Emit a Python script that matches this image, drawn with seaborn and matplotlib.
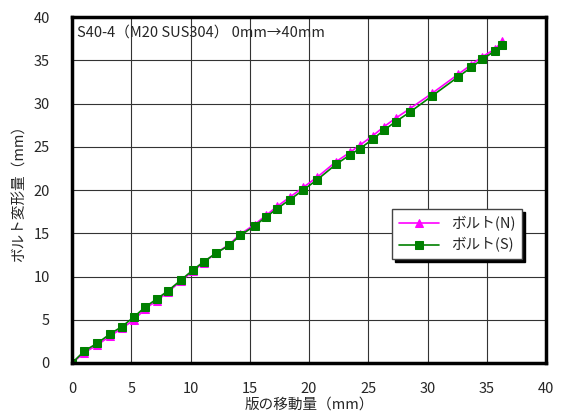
import numpy as np
import pandas as pd
import matplotlib
matplotlib.use('Agg')
import matplotlib.pyplot as plt
import seaborn as sns

sns.set_style("white")
plt.rcParams['font.family'] = ['Noto Sans CJK JP', 'DejaVu Sans']

MAGENTA = '#FF00FF'
GREEN = '#008000'

# plate displacement (mm)
plate_move = [0, 1.05, 2.15, 3.2, 4.2, 5.25, 6.2, 7.15, 8.1, 9.2, 10.2, 11.1,
              12.15, 13.25, 14.2, 15.4, 16.4, 17.3, 18.4, 19.5, 20.7, 22.3,
              23.5, 24.3, 25.4, 26.3, 27.3, 28.5, 30.4, 32.6, 33.7, 34.6,
              35.7, 36.3]
# bolt deformation (mm)
bolt_n = [0, 1.2, 2.1, 3.1, 4.0, 5.0, 6.3, 7.2, 8.2, 9.5, 10.6, 11.6,
          12.7, 13.7, 14.9, 16.0, 17.1, 18.1, 19.2, 20.3, 21.5, 23.3,
          24.4, 25.2, 26.3, 27.3, 28.3, 29.4, 31.2, 33.4, 34.5, 35.4,
          36.3, 37.2]
bolt_s = [0, 1.4, 2.3, 3.35, 4.2, 5.35, 6.5, 7.4, 8.35, 9.6, 10.75, 11.7,
          12.7, 13.6, 14.75, 15.85, 16.9, 17.85, 18.9, 20.0, 21.2, 23.0,
          24.1, 24.8, 25.9, 26.9, 27.9, 29.0, 30.9, 33.1, 34.2, 35.1,
          36.1, 36.8]

df = pd.DataFrame({'move': plate_move, 'N': bolt_n, 'S': bolt_s})

fig = plt.figure(figsize=(5.67, 4.18), dpi=100)
ax = fig.add_axes([0.127, 0.1316, 0.836, 0.8275])

sns.lineplot(data=df, x='move', y='N', ax=ax, color=MAGENTA, marker='^',
             markersize=6, markeredgecolor=MAGENTA, linewidth=1.2,
             sort=False, label='ボルト(N)')
sns.lineplot(data=df, x='move', y='S', ax=ax, color=GREEN, marker='s',
             markersize=5.5, markeredgecolor=GREEN, linewidth=1.2,
             sort=False, label='ボルト(S)')

ax.set_xlim(0, 40)
ax.set_ylim(0, 40)
ax.set_xticks(np.arange(0, 41, 5))
ax.set_yticks(np.arange(0, 41, 5))
ax.grid(True, color='#333333', linewidth=0.8)
ax.set_axisbelow(True)
for s in ax.spines.values():
    s.set_color('black')
    s.set_linewidth(2.5)
ax.tick_params(axis='both', labelsize=10.5, length=3, width=1, color='black',
               direction='out')
ax.tick_params(axis='x', pad=11)
ax.tick_params(axis='y', pad=13)

ax.set_xlabel('版の移動量（mm）', fontsize=10.5, va='top')
ax.xaxis.set_label_coords(0.5, -0.1)
ax.set_ylabel('ボルト変形量（mm）', fontsize=10.5, va='center')
ax.yaxis.set_label_coords(-0.11, 0.5)

ax.text(0.01, 0.975, 'S40-4（M20 SUS304） 0mm→40mm', transform=ax.transAxes,
        fontsize=10.5, va='top', ha='left')

leg = ax.legend(loc='lower left', bbox_to_anchor=(0.675, 0.30), borderaxespad=0,
                fontsize=10.5, frameon=True, fancybox=False,
                shadow={'color': 'black', 'alpha': 1},
                handlelength=2.8, borderpad=0.45, labelspacing=0.45,
                framealpha=1, edgecolor='#444444')
leg.get_frame().set_linewidth(1.0)

plt.savefig('out.png', dpi=100)
